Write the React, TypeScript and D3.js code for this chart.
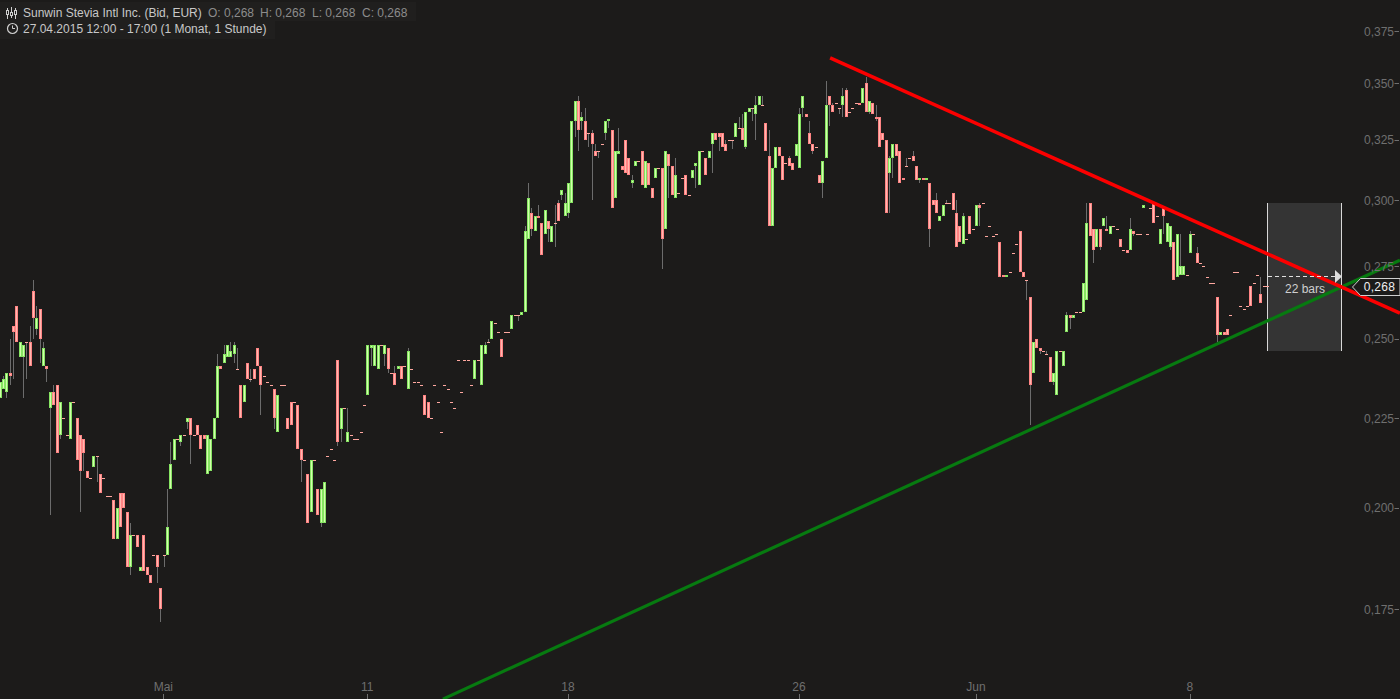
import React from 'react';
import * as d3 from 'd3';

// prices in 1/1000 EUR, one entry per hourly bar
const opens = [
  231,234,233,239,254,261,244,244,249,249, 266,253,260,241,241,228,233,235,220,225,
  220,219,230,225,220,219,210,208,211,214, 209,208,203,203,202,192,204,204,199,185,
  193,193,184,193,185,183,188,188,180,188, 188,205,213,219,218,220,224,225,220,223,
  220,220,209,210,219,225,241,242,244,244, 245,240,235,230,242,237,240,247,241,238,
  236,235,234,221,235,235,225,230,230,229, 216,213,209,199,213,205,196,196,214,216,
  213,243,222,228,218,220,219,219,221,229, 232,247,241,240,248,245,247,239,239,240,
  241,241,234,240,236,236,235,232,230,225, 235,230,221,235,234,230,228,243,233,243,
  243,235,237,243,235,245,249,250,255,252, 250,252,252,253,258,258,258,259,285,295,
  288,294,291,287,292,284,291,299,302,294, 295,299,333,342,333,333,328,328,320,320,
  323,328,333,329,301,319,314,325,317,307, 314,316,320,305,315,305,309,313,313,289,
  319,314,301,303,309,310,302,309,314,306, 320,317,317,323,328,328,328,323,325,325,
  326,330,330,322,337,339,336,340,340,332, 318,290,313,322,318,315,317,315,318,313,
  339,336,328,323,322,310,307,317,344,340, 341,339,340,347,337,339,341,341,341,350,
  337,341,335,335,328,325,311,317,323,320, 309,314,317,318,314,308,309,308,307,300,
  300,292,294,299,299,303,295,290,283,285, 294,289,290,298,299,286,290,286,287,284,
  272,271,273,280,283,288,273,270,264,239, 250,247,246,245,244,236,232,246,241,252,
  258,257,259,259,259,263,299,289,282,289, 290,289,287,290,289,285,281,281,281,288,
  287,287,297,287,297,299,294,283,297,284, 282,284,271,272,272,272,280,287,280,276,
  275,271,269,269,264,251,252,253,258,273, 273,261,260,261,268,269,272,265,268,268,
];
const closes = [
  236,237,239,238,252,249,249,248,249,241, 257,257,250,247,240,233,229,215,230,225,
  220,230,230,213,210,215,208,208,214,214, 204,208,203,203,192,200,195,200,185,193,
  193,190,185,184,183,181,188,185,175,188, 195,212,219,219,220,220,225,220,220,220,
  216,219,220,219,225,241,240,245,248,246, 248,240,225,235,237,237,237,241,235,238,
  236,235,225,232,235,235,222,223,230,216, 213,213,196,213,213,198,205,207,214,216,
  213,218,228,228,221,220,219,219,221,229, 248,248,248,248,248,248,240,239,235,241,
  237,241,246,240,236,236,235,226,225,225, 235,230,221,235,234,230,228,243,233,243,
  243,235,243,243,248,248,249,256,255,252, 244,252,252,258,258,258,259,288,301,289,
  294,293,279,296,289,290,291,292,304,299, 307,333,342,329,335,325,328,323,318,320,
  323,333,334,297,320,320,312,311,310,308, 316,316,306,316,306,301,313,313,285,320,
  314,302,310,303,309,302,302,312,315,320, 320,310,320,328,325,326,322,320,325,325,
  332,330,325,337,339,339,340,344,340,320, 290,313,322,318,308,315,314,312,323,336,
  344,335,323,320,322,307,316,340,340,337, 341,339,344,335,337,339,341,340,348,337,
  342,336,334,322,325,295,317,323,318,307, 308,314,317,316,308,309,308,309,289,298,
  295,294,298,299,299,296,282,284,294,285, 287,289,298,297,299,286,290,286,287,271,
  271,272,273,280,283,273,271,270,235,249, 247,246,246,245,236,239,246,246,246,258,
  257,258,259,259,269,291,286,281,289,282, 293,288,290,290,289,282,281,280,289,287,
  287,287,298,287,297,291,294,289,294,291, 290,270,287,275,275,272,287,287,276,276,
  275,271,269,269,251,252,251,251,258,273, 273,261,260,261,261,269,272,262,268,268,
];
const highs = [
  236,238,239,250,254,261,249,248,249,254, 270,261,260,249,241,233,235,235,230,225,
  220,230,230,225,220,219,210,208,214,214, 209,208,203,203,202,200,204,204,199,196,
  193,193,185,193,185,183,188,188,180,188, 205,218,219,219,220,220,225,225,220,223,
  220,220,220,219,225,245,241,248,248,249, 249,247,235,235,242,240,240,247,241,238,
  236,235,234,232,235,235,225,230,230,229, 216,213,209,213,213,205,205,207,214,216,
  213,243,228,228,228,220,219,219,221,229, 248,248,248,248,248,248,247,239,241,241,
  241,241,247,240,236,236,235,232,230,225, 235,230,221,235,234,230,228,243,233,243,
  243,235,243,243,248,249,250,256,255,252, 250,252,252,258,258,258,259,290,307,297,
  294,298,291,296,292,290,298,300,304,303, 307,333,342,344,337,339,328,329,323,320,
  323,333,334,329,320,330,314,325,317,310, 316,316,320,316,315,305,313,313,313,320,
  319,314,317,303,309,310,302,312,315,320, 320,317,320,328,328,328,328,325,325,325,
  332,335,336,337,339,339,344,344,344,332, 329,313,322,322,318,315,318,315,323,339,
  344,336,333,323,322,310,316,351,344,341, 341,339,348,348,337,339,341,341,348,353,
  342,341,340,335,328,325,318,323,323,320, 309,317,317,320,314,309,309,309,307,300,
  303,294,298,300,299,303,300,290,295,285, 294,289,298,299,299,286,290,286,287,284,
  272,272,273,280,283,288,273,270,264,249, 250,247,246,246,244,239,246,246,246,259,
  258,258,259,259,269,299,299,289,289,289, 293,294,290,290,289,285,281,281,293,288,
  287,287,298,287,297,299,294,289,297,291, 290,284,287,287,275,272,288,287,282,276,
  275,271,269,269,264,252,252,253,258,273, 273,261,260,261,268,269,272,271,268,268,
];
const lows = [
  231,234,231,235,237,249,244,231,237,241, 250,251,242,241,236,198,229,215,219,225,
  220,219,230,213,199,210,208,208,211,207, 204,208,203,203,192,192,195,200,185,183,
  193,190,184,184,183,181,188,181,172,185, 188,205,213,219,217,220,222,212,220,220,
  216,219,209,210,219,225,240,242,244,244, 242,240,225,230,237,236,237,241,226,238,
  236,235,222,221,235,235,222,223,230,216, 207,213,196,199,213,198,195,196,214,216,
  213,217,218,228,218,220,219,219,221,229, 232,241,241,240,248,241,239,239,235,240,
  237,241,234,240,236,236,235,226,225,225, 235,230,221,235,234,230,228,243,233,243,
  243,235,237,243,235,245,249,250,255,252, 244,252,252,253,258,256,258,259,285,286,
  288,293,279,287,284,284,282,292,300,294, 293,299,326,320,329,325,322,300,318,317,
  323,325,330,297,301,319,312,311,310,305, 314,316,306,305,306,301,309,313,274,289,
  301,302,301,303,309,302,302,309,305,306, 320,310,317,311,325,320,322,320,325,321,
  326,330,325,321,337,333,325,340,340,320, 290,290,313,318,308,315,314,312,318,313,
  335,335,323,319,322,307,301,317,331,337, 341,336,335,335,337,339,341,340,341,337,
  336,336,333,322,325,295,295,309,318,307, 308,314,317,316,308,307,308,308,282,298,
  295,292,294,299,299,296,282,284,283,285, 287,289,290,290,299,286,290,286,287,271,
  271,271,273,280,283,273,271,263,223,239, 247,245,246,245,236,235,232,246,241,252,
  253,257,259,259,259,263,286,276,282,281, 290,288,287,290,289,282,281,280,281,286,
  287,287,297,287,297,291,294,283,287,284, 281,270,271,272,272,272,280,287,276,276,
  275,271,269,269,249,251,251,251,258,273, 273,261,260,261,261,269,272,262,268,268,
];

const priceTicks = [175, 200, 225, 250, 275, 300, 325, 350, 375];
const dateTicks = [
  { bar: 48.8, label: 'Mai' },
  { bar: 109.8, label: '11' },
  { bar: 169.8, label: '18' },
  { bar: 238.9, label: '26' },
  { bar: 291.8, label: 'Jun' },
  { bar: 355.8, label: '8' },
];
// trend lines as [bar, price] pairs
const redTrend: [number, number][] = [[248.2, 361.9], [418.6, 258.5]];
const greenTrend: [number, number][] = [[132.4, 155.4], [418.6, 277.2]];
const lastPrice = 268;

const W = 1400;
const H = 699;
const FONT = '"Liberation Sans", Arial, sans-serif';

const x = d3.scaleLinear().domain([0, 379]).range([0.16, 1267.5]);
const y = d3.scaleLog().domain([175, 375]).range([609, 31]);
const fmt = (v: number) => (v / 1000).toFixed(3).replace('.', ',');
const trendLine = d3.line<[number, number]>().x(d => x(d[0])).y(d => y(d[1]));

export default function App() {
  return (
    <svg
      width={W}
      height={H}
      viewBox={`0 0 ${W} ${H}`}
      style={{ position: 'absolute', left: 0, top: 0, display: 'block', background: '#1c1b1a' }}
      fontFamily={FONT}
    >
      {/* measure box */}
      <rect x={1267} y={203} width={75} height={148} fill="#343434" />
      <line x1={1267.5} x2={1267.5} y1={203} y2={351} stroke="#d8d8d8" />
      <line x1={1341.5} x2={1341.5} y1={203} y2={351} stroke="#d8d8d8" />

      {/* candles */}
      <g shapeRendering="crispEdges">
        {opens.map((o, i) => {
          const c = closes[i];
          const left = Math.round(x(i) - 1.5);
          const hi = Math.round(y(highs[i]));
          const lo = Math.round(y(lows[i]));
          const top = Math.round(y(Math.max(o, c)));
          const bot = Math.round(y(Math.min(o, c)));
          const up = c > o;
          const flat = c === o;
          const bodyH = Math.max(bot - top, 2);
          return (
            <g key={i}>
              {lo > hi && <rect x={left + 1} y={hi} width={1} height={lo - hi} fill="#6c6c6c" />}
              {flat ? (
                <rect x={left} y={top} width={3} height={1} fill="#ffa8a0" />
              ) : (
                <>
                  <rect x={left} y={top} width={3} height={bodyH} fill={up ? '#86e462' : '#ff8484'} />
                  {bodyH > 2 && (
                    <rect x={left + 1} y={top + 1} width={1} height={bodyH - 2} fill={up ? '#d2ffac' : '#ffb8b0'} />
                  )}
                </>
              )}
            </g>
          );
        })}
      </g>

      {/* trend lines */}
      <path d={trendLine(greenTrend) || ''} fill="none" stroke="#077a10" strokeWidth={3.2} />
      <path d={trendLine(redTrend) || ''} fill="none" stroke="#fb0000" strokeWidth={3.6} />

      {/* measure arrow */}
      <line x1={1268} x2={1335} y1={276.5} y2={276.5} stroke="#e0e0e0" strokeDasharray="4 3" />
      <path d="M1335 270 L1342 276.5 L1335 283 Z" fill="#dcdcdc" />
      <text x={1305} y={292.5} textAnchor="middle" fontSize={12} fill="#cfcfcf">22 bars</text>

      {/* price axis */}
      {priceTicks.map(t => (
        <g key={t}>
          <text x={1394} y={y(t) + 4.5} textAnchor="end" fontSize={12} fill="#6f6f6f">{fmt(t)}</text>
          <line x1={1394.5} x2={1399} y1={Math.round(y(t)) + 0.5} y2={Math.round(y(t)) + 0.5} stroke="#6f6f6f" />
        </g>
      ))}

      {/* last price tag */}
      <path d="M1352.5 287 L1360.5 278.5 L1400 278.5 L1400 295.5 L1360.5 295.5 Z" fill="#1c1b1a" stroke="#cfcfcf" />
      <text x={1379.5} y={y(lastPrice) + 5.5} textAnchor="middle" fontSize={12} letterSpacing={0.3} fill="#f0f0f0">{fmt(lastPrice)}</text>

      {/* date axis */}
      {dateTicks.map(t => (
        <g key={t.label}>
          <text x={x(t.bar)} y={691} textAnchor="middle" fontSize={12} fill="#6f6f6f">{t.label}</text>
          <line x1={Math.round(x(t.bar)) + 0.5} x2={Math.round(x(t.bar)) + 0.5} y1={694} y2={699} stroke="#6f6f6f" />
        </g>
      ))}

      {/* header */}
      <rect x={0} y={2} width={416} height={19} fill="#201f1e" />
      <rect x={0} y={21} width={275} height={18} fill="#201f1e" />
      <g stroke="#cfcfcf" fill="none">
        <path d="M7.5 8 V19 M11.5 7 V18 M15.5 8 V19" />
        <rect x={6.5} y={10.5} width={2} height={4} fill="#1c1b1a" />
        <rect x={10.5} y={12.5} width={2} height={3} fill="#1c1b1a" />
        <rect x={14.5} y={10.5} width={2} height={4} fill="#1c1b1a" />
        <circle cx={12.5} cy={28.5} r={5} strokeWidth={1.2} />
        <path d="M12.5 25.5 V28.5 H15" />
      </g>
      <text x={23} y={17} fontSize={12} fill="#c8c8c8">Sunwin Stevia Intl Inc. (Bid, EUR)</text>
      <text x={208} y={17} fontSize={12} fill="#8c8c8c">O: 0,268</text>
      <text x={260} y={17} fontSize={12} fill="#8c8c8c">H: 0,268</text>
      <text x={312} y={17} fontSize={12} fill="#8c8c8c">L: 0,268</text>
      <text x={362} y={17} fontSize={12} fill="#8c8c8c">C: 0,268</text>
      <text x={23} y={33} fontSize={12} fill="#c8c8c8">27.04.2015 12:00 - 17:00 (1 Monat, 1 Stunde)</text>
    </svg>
  );
}
